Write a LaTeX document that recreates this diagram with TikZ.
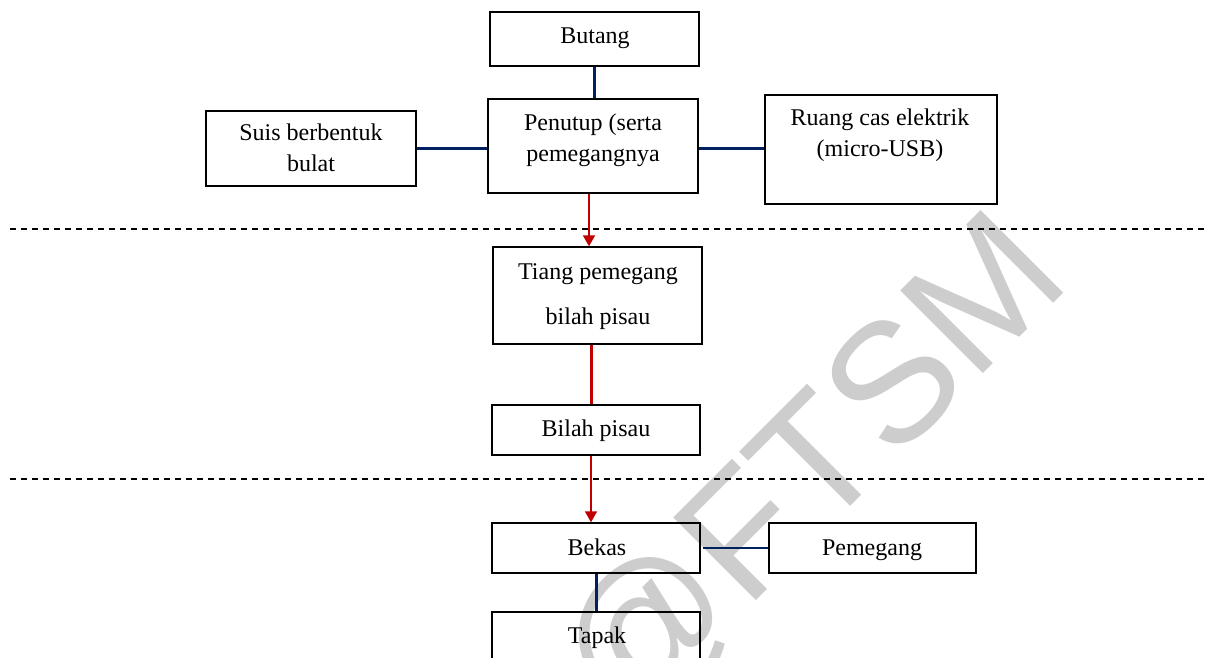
\documentclass[tikz,border=0pt]{standalone}
\usepackage{fontspec}
\setmainfont{Liberation Serif}
\newfontfamily\wmfont{Liberation Sans}
\usetikzlibrary{arrows.meta}
\definecolor{navyline}{RGB}{0,32,96}
\definecolor{redline}{RGB}{192,0,0}
\definecolor{wmgray}{RGB}{205,205,205}
\newcommand\hstrut{\rule{0pt}{20pt}}
\begin{document}
\begin{tikzpicture}[x=1pt,y=-1pt,
  partbox/.style={draw=black, line width=1.5pt, inner sep=0pt, rectangle},
  txt/.style={inner sep=0pt, align=center, anchor=north, font=\fontsize{24}{31}\selectfont},
  blueline/.style={draw=navyline, line width=3pt},
  bluethin/.style={draw=navyline, line width=1.6pt},
  redarrow/.style={draw=redline, -{Triangle[width=12pt,length=11pt]}},
  dividerline/.style={draw=black, line width=1.2pt, dash pattern=on 6pt off 5pt}]
\useasboundingbox (0,0) rectangle (1208,657);
\clip (0,0) rectangle (1208,657);

% watermark
\node[anchor=base west, rotate=45, inner sep=0pt, text=wmgray,
      font=\fontsize{170}{170}\selectfont\wmfont] (wm) at (624,733) {@FTSM};

% dividers
\coordinate (d1a) at (10,229);  \coordinate (d1b) at (1205,229);
\coordinate (d2a) at (10,479);  \coordinate (d2b) at (1208,479);
\draw[dividerline] (d1a) -- (d1b);
\draw[dividerline] (d2a) -- (d2b);

% boxes
\node[partbox, minimum width=209pt, minimum height=54pt]  (butang)   at (594.5,39)  {};
\node[partbox, minimum width=210pt, minimum height=94pt]  (penutup)  at (593,146)   {};
\node[partbox, minimum width=210pt, minimum height=75pt]  (suis)     at (311,148.5) {};
\node[partbox, minimum width=232pt, minimum height=109pt] (ruang)    at (881,149.5) {};
\node[partbox, minimum width=209pt, minimum height=97pt]  (tiang)    at (597.5,295.5) {};
\node[partbox, minimum width=208pt, minimum height=50pt]  (bilah)    at (596,430)   {};
\node[partbox, minimum width=208pt, minimum height=50pt]  (bekas)    at (596,548)   {};
\node[partbox, minimum width=207pt, minimum height=50pt]  (pemegang) at (872.5,548) {};
\node[partbox, minimum width=208pt, minimum height=50pt]  (tapak)    at (596,637)   {};

% texts (anchor north = baseline - 20)
\node[txt] (tbutang)   at (595,23)  {\hstrut Butang};
\node[txt] (tpenutup)  at (593,110) {\hstrut Penutup (serta\\pemegangnya};
\node[txt] (tsuis)     at (311,120) {\hstrut Suis berbentuk\\bulat};
\node[txt] (truang)    at (880,105) {\hstrut Ruang cas elektrik\\(micro-USB)};
\node[txt] (ttiang)    at (598,259) {\hstrut Tiang pemegang\\[14pt]bilah pisau};
\node[txt] (tbilah)    at (596,416) {\hstrut Bilah pisau};
\node[txt] (tbekas)    at (597,535) {\hstrut Bekas};
\node[txt] (tpemegang) at (872,535) {\hstrut Pemegang};
\node[txt] (ttapak)    at (597,623) {\hstrut Tapak};

% connectors
\draw[blueline] (butang.south) -- (butang.south |- penutup.north);
\draw[blueline] (suis.east) -- (suis.east -| penutup.west);
\draw[blueline] ([yshift=-2pt]penutup.east) -- ([yshift=-2pt]penutup.east -| ruang.west);
\draw[redarrow, line width=2pt] ([xshift=-4pt]penutup.south) -- ([xshift=-4pt]penutup.south |- tiang.north);
\draw[draw=redline, line width=3pt] ([xshift=-5pt]bilah.north |- tiang.south) -- ([xshift=-5pt]bilah.north);
\draw[redarrow, line width=1.6pt] ([xshift=-5pt]bilah.south) -- ([xshift=-5pt]bekas.north);
\draw[bluethin] ([xshift=2pt]bekas.east) -- (bekas.east -| pemegang.west);
\draw[blueline] (bekas.south) -- (bekas.south |- tapak.north);
\end{tikzpicture}
\end{document}
